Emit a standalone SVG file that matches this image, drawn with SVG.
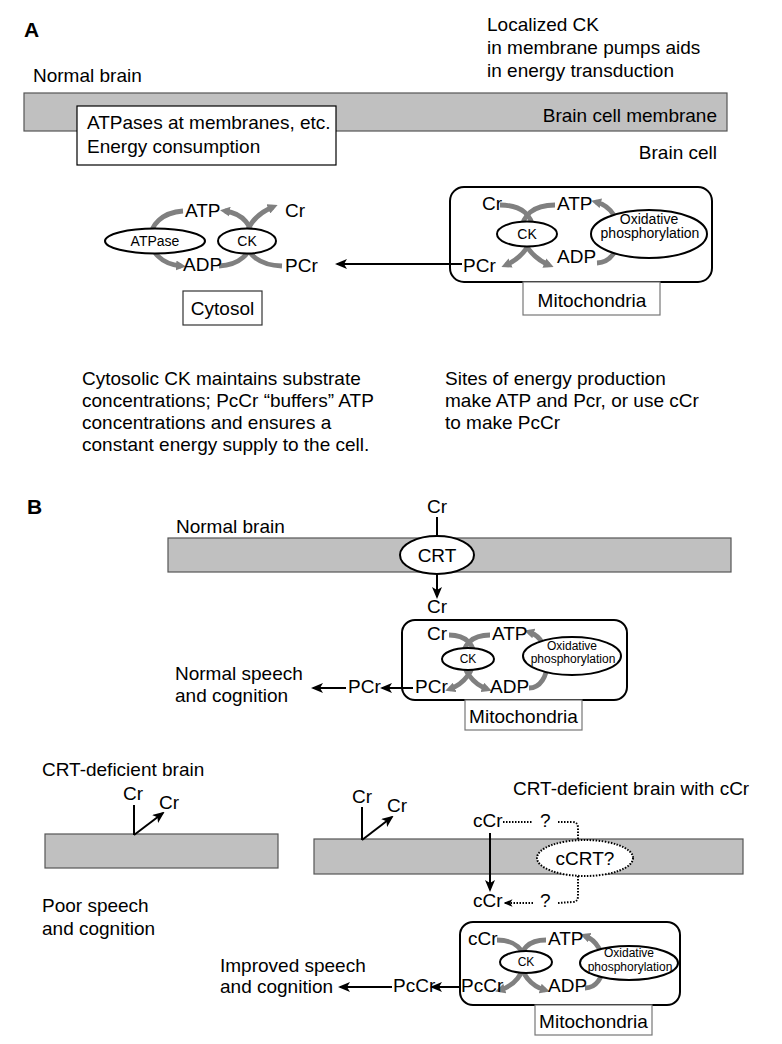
<svg xmlns="http://www.w3.org/2000/svg" width="782" height="1044" viewBox="0 0 782 1044">
<defs>
<style>
text{font-family:"Liberation Sans",Arial,Helvetica,sans-serif;fill:#000}
.t{font-size:19px}
.s{font-size:14px}
.xs{font-size:12px}
.lbl{font-size:21px;font-weight:bold}
.mem{fill:#c0c0c0;stroke:#555;stroke-width:1.2}
.ell{fill:#fff;stroke:#000;stroke-width:2}
.gbox{fill:#fff;stroke:#777;stroke-width:1.2}
.bbox{fill:#fff;stroke:#333;stroke-width:1.2}
.ga{fill:none;stroke:#808080;stroke-width:4.8;marker-end:url(#gh)}
.ba{fill:none;stroke:#000;stroke-width:2;marker-end:url(#bh)}
.bl{fill:none;stroke:#000;stroke-width:2}
.dot{fill:none;stroke:#000;stroke-width:2;stroke-dasharray:1.5 1.5}
</style>
<marker id="gh" viewBox="0 0 10 10" refX="5" refY="5" markerWidth="10" markerHeight="10" markerUnits="userSpaceOnUse" orient="auto"><path d="M0,0 L10,5 L0,10 z" fill="#808080"/></marker>
<marker id="bh" viewBox="0 0 12 10" refX="10" refY="5" markerWidth="12" markerHeight="10" markerUnits="userSpaceOnUse" orient="auto"><path d="M0,0 L12,5 L0,10 L3,5 z" fill="#000"/></marker>
<marker id="sh" viewBox="0 0 12 10" refX="10" refY="5" markerWidth="9" markerHeight="8" markerUnits="userSpaceOnUse" orient="auto"><path d="M0,0 L12,5 L0,10 L3,5 z" fill="#000"/></marker>
</defs>

<!-- ===== Panel A ===== -->
<g id="panelA-labels">
<text class="lbl" x="24" y="37">A</text>
<text class="t" x="487" y="31">Localized CK</text>
<text class="t" x="487" y="54">in membrane pumps aids</text>
<text class="t" x="487" y="77">in energy transduction</text>
<text class="t" x="33" y="82">Normal brain</text>
</g>
<g id="membraneA">
<rect class="mem" x="24" y="93" width="703" height="38"/>
<text class="t" x="717" y="122" text-anchor="end">Brain cell membrane</text>
</g>
<g id="atpases-box">
<rect x="77" y="106" width="259" height="59" fill="#fff" stroke="#000" stroke-width="1.2"/>
<text class="t" x="87" y="129">ATPases at membranes, etc.</text>
<text class="t" x="87" y="153">Energy consumption</text>
</g>
<text class="t" x="717" y="159" text-anchor="end">Brain cell</text>

<g id="connectorsA">
<path class="ga" d="M183,211 C140,214 140,262 181,266"/>
<path class="ga" d="M219,266 C262,264 262,216 225,211"/>
<path class="ga" d="M282,266 C235,264 236,222 273,207"/>
<path class="ga" d="M500,205 C545,205 540,250 506,265"/>
<path class="ga" d="M555,205 C510,205 514,250 549,265"/>
<path class="ga" d="M597,263 C625,262 628,210 596,202"/>
<line class="ba" x1="462" y1="264" x2="337" y2="264"/>
</g>

<g id="cytosol">
<text class="t" x="185" y="217">ATP</text>
<text class="t" x="285" y="217">Cr</text>
<text class="t" x="183" y="271">ADP</text>
<text class="t" x="285" y="272">PCr</text>
<g id="atpase"><ellipse class="ell" cx="155" cy="241" rx="50" ry="12.5"/><text class="s" x="155" y="246" text-anchor="middle">ATPase</text></g>
<g id="ckA1"><ellipse class="ell" cx="247" cy="241" rx="29" ry="12.5"/><text class="s" x="247" y="246" text-anchor="middle">CK</text></g>
<g id="cytosol-label"><rect class="bbox" x="183" y="291" width="79" height="34"/><text class="t" x="222.5" y="315" text-anchor="middle">Cytosol</text></g>
</g>

<g id="mitoA">
<rect x="450" y="187" width="262" height="95" rx="14" fill="none" stroke="#000" stroke-width="2"/>
<text class="t" x="482" y="210">Cr</text>
<text class="t" x="557" y="210">ATP</text>
<text class="t" x="463" y="272">PCr</text>
<text class="t" x="557" y="263">ADP</text>
<ellipse class="ell" cx="527" cy="234" rx="30" ry="12.5"/>
<text class="s" x="527" y="239" text-anchor="middle">CK</text>
<ellipse class="ell" cx="649" cy="234" rx="58" ry="24"/>
<text class="s" x="649" y="224" text-anchor="middle">Oxidative</text>
<text class="s" x="650" y="238" text-anchor="middle">phosphorylation</text>
<rect class="gbox" x="523" y="282" width="137" height="33"/>
<text class="t" x="592" y="307" text-anchor="middle">Mitochondria</text>
</g>

<g id="panelA-text">
<text class="t" x="82" y="385">Cytosolic CK maintains substrate</text>
<text class="t" x="82" y="407">concentrations; PcCr “buffers” ATP</text>
<text class="t" x="82" y="429">concentrations and ensures a</text>
<text class="t" x="82" y="451">constant energy supply to the cell.</text>
<text class="t" x="445" y="385">Sites of energy production</text>
<text class="t" x="445" y="407">make ATP and Pcr, or use cCr</text>
<text class="t" x="445" y="429">to make PcCr</text>
</g>

<!-- ===== Panel B ===== -->
<text class="lbl" x="27" y="514">B</text>
<text class="t" x="176" y="533">Normal brain</text>
<g id="membraneB"><rect class="mem" x="168" y="538" width="563" height="34"/></g>

<g id="connectorsB">
<line class="bl" x1="437" y1="517" x2="437" y2="537"/>
<line class="ba" x1="437" y1="574" x2="437" y2="597"/>
<path class="ga" d="M449,635 C485,635 480,678 450,689"/>
<path class="ga" d="M490,635 C452,635 457,678 487,689"/>
<path class="ga" d="M529,688 C552,688 555,640 529,632"/>
<line class="ba" x1="413" y1="688" x2="382" y2="688"/>
<line class="ba" x1="346" y1="688" x2="313" y2="688"/>
</g>
<text class="t" x="437" y="513" text-anchor="middle">Cr</text>
<g id="crt"><ellipse class="ell" cx="437" cy="555" rx="37" ry="19"/><text class="t" x="437" y="562" text-anchor="middle">CRT</text></g>
<text class="t" x="437" y="613" text-anchor="middle">Cr</text>

<g id="mitoB">
<rect x="402" y="620" width="225" height="80" rx="13" fill="none" stroke="#000" stroke-width="2"/>
<text class="t" x="427" y="640">Cr</text>
<text class="t" x="492" y="640">ATP</text>
<text class="t" x="415" y="693">PCr</text>
<text class="t" x="490" y="693">ADP</text>
<ellipse class="ell" cx="468" cy="659" rx="26" ry="11"/>
<text class="xs" x="468" y="663" text-anchor="middle">CK</text>
<ellipse class="ell" cx="572" cy="656" rx="49" ry="19"/>
<text class="xs" x="572" y="650" text-anchor="middle">Oxidative</text>
<text class="xs" x="573" y="663" text-anchor="middle">phosphorylation</text>
<rect class="gbox" x="465" y="700" width="117" height="30"/>
<text class="t" x="523.5" y="723" text-anchor="middle">Mitochondria</text>
</g>
<text class="t" x="348" y="693">PCr</text>
<text class="t" x="175" y="680">Normal speech</text>
<text class="t" x="175" y="702">and cognition</text>

<!-- CRT-deficient -->
<g id="crt-deficient">
<text class="t" x="42" y="776">CRT-deficient brain</text>
<rect class="mem" x="45" y="834" width="233" height="34"/>
<text class="t" x="123" y="800">Cr</text>
<text class="t" x="159" y="809">Cr</text>
<line class="bl" x1="134" y1="805" x2="134" y2="835"/>
<line class="ba" x1="134" y1="835" x2="163" y2="813"/>
<text class="t" x="42" y="912">Poor speech</text>
<text class="t" x="42" y="935">and cognition</text>
</g>

<!-- CRT-deficient with cCr -->
<g id="crt-deficient-ccr">
<text class="t" x="513" y="795">CRT-deficient brain with cCr</text>
<rect class="mem" x="314" y="839" width="429" height="35"/>
<text class="t" x="352" y="803">Cr</text>
<text class="t" x="387" y="812">Cr</text>
<line class="bl" x1="362" y1="807" x2="362" y2="840"/>
<line class="ba" x1="362" y1="840" x2="392" y2="817"/>
<text class="t" x="473" y="827">cCr</text>
<text class="t" x="540" y="827">?</text>
<path class="dot" d="M503,822 L532,822"/>
<path class="dot" d="M558,822 L572,822 Q578,822 578,828 L578,841"/>
<path class="dot" d="M578,876 L578,896 Q578,902 572,902 L558,903"/>
<path class="dot" d="M533,903 L505,903" marker-end="url(#sh)"/>
<text class="t" x="540" y="907">?</text>
<text class="t" x="473" y="907">cCr</text>
<line class="ba" x1="490" y1="833" x2="490" y2="890"/>
<g id="ccrt"><ellipse cx="585" cy="858" rx="48" ry="18" fill="#fff" stroke="#000" stroke-width="2" stroke-dasharray="1.5 1.5"/><text class="t" x="585" y="865" text-anchor="middle">cCRT?</text></g>
</g>

<g id="connectorsC">
<path class="ga" d="M497,940 C535,940 530,981 500,990"/>
<path class="ga" d="M546,940 C510,940 515,981 545,990"/>
<path class="ga" d="M585,988 C608,988 610,945 585,936"/>
<line class="ba" x1="460" y1="987" x2="432" y2="987"/>
<line class="ba" x1="392" y1="987" x2="340" y2="987"/>
</g>
<g id="mitoC">
<rect x="460" y="922" width="220" height="83" rx="13" fill="none" stroke="#000" stroke-width="2"/>
<text class="t" x="468" y="945">cCr</text>
<text class="t" x="548" y="945">ATP</text>
<text class="t" x="461" y="992">PcCr</text>
<text class="t" x="548" y="992">ADP</text>
<ellipse class="ell" cx="526" cy="962" rx="26" ry="11"/>
<text class="xs" x="526" y="966" text-anchor="middle">CK</text>
<ellipse class="ell" cx="629" cy="963" rx="49" ry="17"/>
<text class="xs" x="629" y="957" text-anchor="middle">Oxidative</text>
<text class="xs" x="630" y="971" text-anchor="middle">phosphorylation</text>
<rect class="gbox" x="535" y="1005" width="117" height="30"/>
<text class="t" x="593.5" y="1028" text-anchor="middle">Mitochondria</text>
</g>
<text class="t" x="393" y="992">PcCr</text>
<text class="t" x="220" y="972">Improved speech</text>
<text class="t" x="220" y="993">and cognition</text>
</svg>
